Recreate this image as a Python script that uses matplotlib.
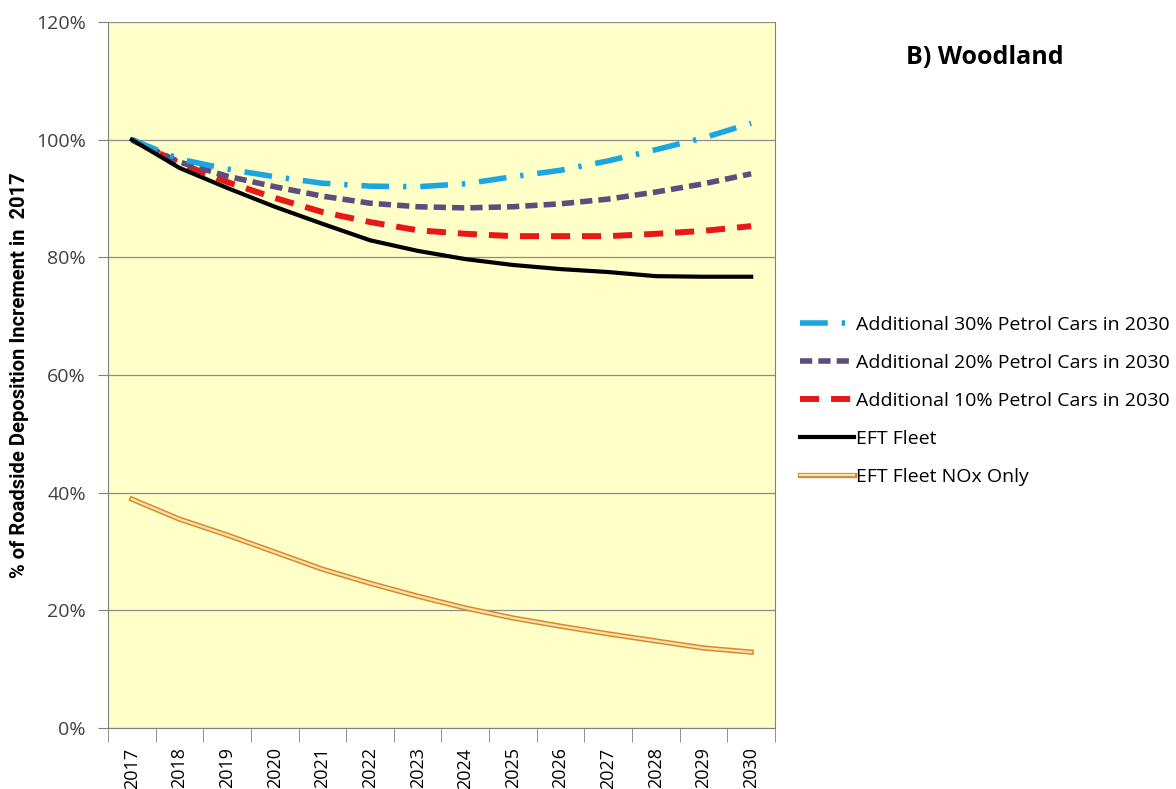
import matplotlib
matplotlib.use('Agg')
import matplotlib.pyplot as plt
import matplotlib.patheffects as pe
import numpy as np

years = ['2017', '2018', '2019', '2020', '2021', '2022', '2023',
         '2024', '2025', '2026', '2027', '2028', '2029', '2030']

petrol30 = [100, 96.7, 95.0, 93.7, 92.6, 92.1, 92.0, 92.5, 93.7, 94.8, 96.4, 98.3, 100.3, 102.8]
petrol20 = [100, 96.2, 93.8, 92.0, 90.4, 89.2, 88.6, 88.4, 88.6, 89.1, 89.9, 91.1, 92.5, 94.2]
petrol10 = [100, 96.0, 92.8, 90.1, 87.7, 86.0, 84.6, 84.0, 83.6, 83.6, 83.6, 84.0, 84.5, 85.3]
eft = [100, 95.2, 91.8, 88.6, 85.7, 82.9, 81.1, 79.7, 78.7, 78.0, 77.5, 76.8, 76.7, 76.7]
eft_nox = [38.9, 35.5, 32.8, 29.9, 27.0, 24.6, 22.4, 20.4, 18.7, 17.3, 16.0, 14.8, 13.6, 12.9]

yticks = [0, 20, 40, 60, 80, 100, 120]

plt.rcParams['font.family'] = ['Open Sans', 'DejaVu Sans']

fig = plt.figure(figsize=(11.76, 7.89), dpi=100)
ax = fig.add_axes([108/1176, 61/789, 667/1176, 706/789])
ax.set_facecolor('#ffffc8')

x = np.arange(len(years))
l30, = ax.plot(x, petrol30, color='#1aa7e0', lw=4, dashes=[5, 2.5, 0.6, 2.5],
               label='Additional 30% Petrol Cars in 2030', zorder=5)
l20, = ax.plot(x, petrol20, color='#5e4c7e', lw=4, dashes=[2.2, 1.1],
               label='Additional 20% Petrol Cars in 2030', zorder=4)
l10, = ax.plot(x, petrol10, color='#e81818', lw=4.3, dashes=[3.2, 2.0],
               label='Additional 10% Petrol Cars in 2030', zorder=3)
le, = ax.plot(x, eft, color='black', lw=3, label='EFT Fleet', zorder=6)
ln, = ax.plot(x, eft_nox, color='#fbe3b0', lw=1.6, label='EFT Fleet NOx Only', zorder=6,
              path_effects=[pe.Stroke(linewidth=3.8, foreground='#d9892c'), pe.Normal()])

ax.set_xlim(-0.5, len(years) - 0.5)
ax.set_ylim(0, 120)
ax.set_yticks(yticks)
ax.set_yticklabels(['%d%%' % v for v in yticks], fontsize=14, color='#404040')
ax.set_xticks(x)
ax.set_xticklabels(years, rotation=90, fontsize=13, color='black')
ax.set_xticks(np.arange(len(years) + 1) - 0.5, minor=True)
ax.tick_params(axis='x', which='major', length=0, pad=14)
ax.tick_params(axis='x', which='minor', length=10, color='#808080')
ax.tick_params(axis='y', length=7, color='#808080', pad=9)
ax.grid(axis='y', color='#8c8c8c', lw=0.9)
ax.set_axisbelow(True)
for s in ax.spines.values():
    s.set_color('#808080')
ax.spines['top'].set_visible(False)

ax.set_ylabel('% of Roadside Deposition Increment in  2017', fontsize=14.5,
              fontweight='bold', family=['Roboto', 'DejaVu Sans'], labelpad=5)

fig.text(985/1176, 1 - 57/789, 'B) Woodland', fontsize=18, fontweight='bold',
         ha='center', va='center')

fig.legend(handles=[l30, l20, l10, le, ln], loc='upper left',
           bbox_to_anchor=(792/1176, 1 - 308/789), frameon=False, fontsize=14,
           handlelength=2.8, handletextpad=0.1, labelspacing=1.03, borderaxespad=0)

fig.savefig('out.png', dpi=100)
